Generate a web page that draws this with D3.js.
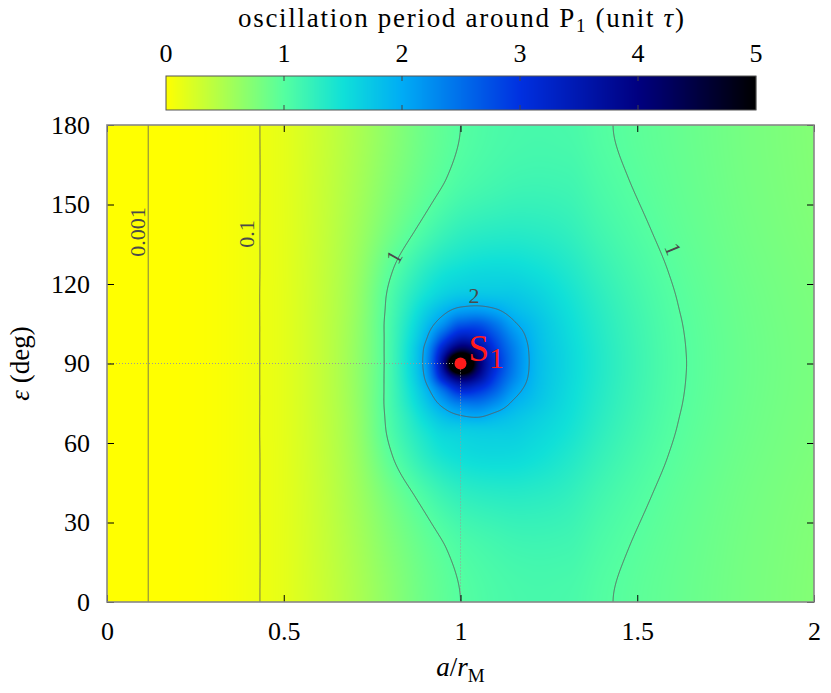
<!DOCTYPE html>
<html><head><meta charset="utf-8">
<script src="https://cdn.jsdelivr.net/npm/d3@7"></script>
<style>
html,body{margin:0;padding:0;background:#fff;}
svg text{font-family:"Liberation Serif","Times New Roman",serif;}
</style></head>
<body>
<svg id="chart" width="831" height="693"></svg>
<script>
// ---------- data ----------
const aVals   = [0,0.1,0.2,0.3,0.4,0.5,0.6,0.7,0.8,0.85,0.9,0.95,1.0,1.05,1.1,1.15,1.2,1.3,1.4,1.5,1.6,1.7,1.8,1.9,2.0];
const epsVals = [0,20,40,55,65,70,75,80,85,90,95,100,105,110,115,125,140,160,180];
// oscillation period (unit tau); one row per epsVals entry, one column per aVals entry
const periodRows = [
 [0,0.00075,0.0035,0.022,0.079,0.155,0.30,0.48,0.68,0.78,0.87,0.94,1.00,1.04,1.07,1.09,1.10,1.09,1.02,0.96,0.91,0.86,0.81,0.77,0.73],
 [0,0.00075,0.0035,0.022,0.079,0.155,0.31,0.50,0.72,0.82,0.91,0.985,1.05,1.09,1.12,1.145,1.155,1.144,1.056,0.983,0.924,0.870,0.817,0.776,0.736],
 [0,0.00075,0.0035,0.022,0.079,0.157,0.32,0.54,0.82,0.95,1.07,1.18,1.26,1.30,1.32,1.33,1.32,1.263,1.135,1.035,0.954,0.891,0.834,0.790,0.750],
 [0,0.00075,0.0035,0.022,0.079,0.158,0.33,0.575,0.97,1.15,1.32,1.45,1.52,1.56,1.57,1.56,1.52,1.394,1.223,1.091,0.988,0.914,0.852,0.806,0.766],
 [0,0.00075,0.0035,0.022,0.079,0.16,0.335,0.595,1.05,1.26,1.46,1.63,1.68,1.71,1.71,1.69,1.63,1.481,1.281,1.129,1.010,0.929,0.864,0.816,0.776],
 [0,0.00075,0.0035,0.022,0.079,0.16,0.337,0.60,1.07,1.31,1.58,1.82,1.97,2.02,1.90,1.79,1.70,1.518,1.306,1.145,1.019,0.936,0.869,0.820,0.780],
 [0,0.00075,0.0035,0.022,0.079,0.16,0.34,0.61,1.09,1.38,1.72,2.10,2.40,2.45,2.24,1.95,1.80,1.551,1.327,1.159,1.028,0.941,0.873,0.824,0.784],
 [0,0.00075,0.0035,0.022,0.079,0.16,0.34,0.615,1.095,1.43,1.86,2.50,3.15,3.00,2.60,2.14,1.88,1.575,1.343,1.169,1.034,0.946,0.877,0.827,0.787],
 [0,0.00075,0.0035,0.022,0.079,0.16,0.34,0.62,1.10,1.48,2.04,3.30,4.40,3.80,2.90,2.33,1.94,1.594,1.356,1.177,1.038,0.949,0.879,0.829,0.789],
 [0,0.00075,0.0035,0.022,0.079,0.16,0.34,0.62,1.10,1.50,2.12,3.80,9.00,4.30,3.10,2.40,1.96,1.60,1.36,1.18,1.04,0.95,0.88,0.83,0.79],
 [0,0.00075,0.0035,0.022,0.079,0.16,0.34,0.62,1.10,1.49,2.08,3.35,4.50,3.90,2.96,2.37,1.95,1.594,1.356,1.177,1.038,0.949,0.879,0.829,0.789],
 [0,0.00075,0.0035,0.022,0.079,0.16,0.34,0.615,1.095,1.45,1.92,2.70,3.35,3.20,2.72,2.24,1.91,1.575,1.343,1.169,1.034,0.946,0.877,0.827,0.787],
 [0,0.00075,0.0035,0.022,0.079,0.16,0.34,0.61,1.09,1.40,1.78,2.20,2.65,2.70,2.42,2.05,1.85,1.551,1.327,1.159,1.028,0.941,0.873,0.824,0.784],
 [0,0.00075,0.0035,0.022,0.079,0.16,0.337,0.60,1.07,1.34,1.64,1.90,2.10,2.14,2.04,1.87,1.76,1.518,1.306,1.145,1.019,0.936,0.869,0.820,0.780],
 [0,0.00075,0.0035,0.022,0.079,0.16,0.335,0.595,1.05,1.28,1.50,1.68,1.78,1.80,1.78,1.75,1.68,1.481,1.281,1.129,1.010,0.929,0.864,0.816,0.776],
 [0,0.00075,0.0035,0.022,0.079,0.158,0.33,0.575,0.97,1.15,1.32,1.45,1.52,1.56,1.57,1.56,1.52,1.394,1.223,1.091,0.988,0.914,0.852,0.806,0.766],
 [0,0.00075,0.0035,0.022,0.079,0.157,0.32,0.54,0.82,0.95,1.07,1.18,1.26,1.30,1.32,1.33,1.32,1.263,1.135,1.035,0.954,0.891,0.834,0.790,0.750],
 [0,0.00075,0.0035,0.022,0.079,0.155,0.31,0.50,0.72,0.82,0.91,0.985,1.05,1.09,1.12,1.145,1.155,1.144,1.056,0.983,0.924,0.870,0.817,0.776,0.736],
 [0,0.00075,0.0035,0.022,0.079,0.155,0.30,0.48,0.68,0.78,0.87,0.94,1.00,1.04,1.07,1.09,1.10,1.09,1.02,0.96,0.91,0.86,0.81,0.77,0.73]
];
const contourLevels = [0.001, 0.1, 1, 2];
const contourLabels = [
  {text:"0.001", a:0.1075, eps:139.6, rot:-90},
  {text:"0.1",   a:0.416,  eps:138.9, rot:-90},
  {text:"1",     a:0.812,  eps:130.2, rot:-61},
  {text:"1",     a:1.601,  eps:133.2, rot:68},
  {text:"2",     a:1.038,  eps:115.8, rot:0}
];
const pointS1 = {a:1.0, eps:90, name:"S", sub:"1"};
const xTicks = [0,0.5,1,1.5,2];
const yTicks = [0,30,60,90,120,150,180];
const cbTicks = [0,1,2,3,4,5];
const paletteStops  = [0, 1, 1.5, 2, 3, 4, 5];
const paletteColors = ["#ffff00","#55ffa0","#10e0d8","#00acf5","#0030e0","#000080","#000000"];

// ---------- layout ----------
const svg = d3.select("#chart");
const L = 107, R = 814, T = 125, B = 602;
const x = d3.scaleLinear().domain([0,2]).range([L,R]);
const y = d3.scaleLinear().domain([0,180]).range([B,T]);
const cbX = d3.scaleLinear().domain([0,5]).range([166,756]);
const cbTop = 76, cbBot = 110;
const color = d3.scaleLinear().domain(paletteStops).range(paletteColors).clamp(true);

// smooth cubic Hermite interpolation of the sampled table (rendering only);
// slopes are limited (Steffen) where neighbouring slopes differ strongly
function spline(xs, ys, flatEnds){
  const n = xs.length, h = [], s = [], m = new Array(n);
  for (let i=0;i<n-1;i++){ h[i]=xs[i+1]-xs[i]; s[i]=(ys[i+1]-ys[i])/h[i]; }
  for (let i=1;i<n-1;i++){
    const p = (s[i-1]*h[i] + s[i]*h[i-1])/(h[i-1]+h[i]);
    const a1 = Math.abs(s[i-1]), a2 = Math.abs(s[i]);
    const strong = Math.max(a1,a2) > 2.5*Math.min(a1,a2) && Math.sign(s[i-1])===Math.sign(s[i]);
    m[i] = strong ? (Math.sign(s[i-1])+Math.sign(s[i]))*Math.min(a1,a2,0.5*Math.abs(p)) : p;
  }
  m[0] = flatEnds ? 0 : s[0]; m[n-1] = flatEnds ? 0 : s[n-2];
  return function(v){
    let i = Math.min(n-2, Math.max(0, d3.bisectRight(xs, v)-1));
    const t = Math.max(0, Math.min(1, (v-xs[i])/h[i])), t2=t*t, t3=t2*t;
    return (2*t3-3*t2+1)*ys[i] + (t3-2*t2+t)*h[i]*m[i] + (-2*t3+3*t2)*ys[i+1] + (t3-t2)*h[i]*m[i+1];
  };
}
// interpolate exp(-T/2.6) so the peak at S1 stays round
const fwd = v => Math.exp(-v/2.6), inv = u => -2.6*Math.log(Math.max(u,1e-6));
function sampleGrid(x0, y0, gw, gh){
  const rowFns = periodRows.map(r => spline(aVals, r.map(fwd), false));
  const rowsAtPx = rowFns.map(f => { const arr = new Float64Array(gw); for (let i=0;i<gw;i++) arr[i]=f(x.invert(x0+i+0.5)); return arr; });
  const out = new Float64Array(gw*gh);
  const epsAt = d3.range(gh).map(j => y.invert(y0+j+0.5));
  for (let i=0;i<gw;i++){
    const f = spline(epsVals, rowsAtPx.map(r => r[i]), true);
    for (let j=0;j<gh;j++) out[j*gw+i] = Math.max(0, inv(f(epsAt[j])));
  }
  return out;
}

const LUT = d3.range(2001).map(k => d3.rgb(color(k/2000*5)));
function lut(v){ const k = Math.max(0, Math.min(2000, Math.round(v/5*2000))); return LUT[k]; }

// ---------- heatmap ----------
const W = R-L, H = B-T;
const pad = 3, GW = W+2*pad, GH = H+2*pad;
const grid = sampleGrid(L-pad, T-pad, GW, GH);
const cv = document.createElement("canvas"); cv.width = W; cv.height = H;
const ctx = cv.getContext("2d");
const img = ctx.createImageData(W, H);
for (let py=0; py<H; py++){
  for (let px=0; px<W; px++){
    const c = lut(grid[(py+pad)*GW + px + pad]);
    const o = (py*W+px)*4;
    img.data[o]=c.r; img.data[o+1]=c.g; img.data[o+2]=c.b; img.data[o+3]=255;
  }
}
ctx.putImageData(img,0,0);
svg.append("image").attr("x",L).attr("y",T).attr("width",W).attr("height",H)
   .attr("preserveAspectRatio","none").attr("href", cv.toDataURL());

// ---------- contours ----------
svg.append("clipPath").attr("id","clipPlot").append("rect").attr("x",L).attr("y",T).attr("width",W).attr("height",H);
const contours = d3.contours().size([GW,GH]).thresholds(contourLevels)(grid);
svg.append("g").attr("clip-path","url(#clipPlot)")
  .append("g").attr("transform",`translate(${L-pad},${T-pad})`)
  .selectAll("path").data(contours).join("path")
  .attr("d", d3.geoPath()).attr("fill","none").attr("stroke","#5a5a5a").attr("stroke-width",0.9);

svg.append("g").selectAll("text").data(contourLabels).join("text")
  .attr("transform", d => `translate(${x(d.a)},${y(d.eps)}) rotate(${d.rot})`)
  .attr("text-anchor","middle").attr("dominant-baseline", d => d.rot===-90 ? "alphabetic" : "central")
  .attr("font-size",22).attr("fill","#4a4a4a").text(d => d.text);

// dotted guide lines to S1 and the point
svg.append("line").attr("x1",x(0)).attr("x2",x(pointS1.a)).attr("y1",y(pointS1.eps)).attr("y2",y(pointS1.eps))
  .attr("stroke","#9a9a9a").attr("stroke-width",1).attr("stroke-dasharray","1,2");
svg.append("line").attr("x1",x(pointS1.a)).attr("x2",x(pointS1.a)).attr("y1",y(pointS1.eps)).attr("y2",y(0))
  .attr("stroke","#9a9a9a").attr("stroke-width",1).attr("stroke-dasharray","1,2");
svg.append("circle").attr("cx",x(pointS1.a)).attr("cy",y(pointS1.eps)).attr("r",6).attr("fill","#ff1a1a");
const sl = svg.append("text").attr("x",x(pointS1.a)+8).attr("y",y(pointS1.eps)-3).attr("fill","#ff1a1a").attr("font-size",37);
sl.append("tspan").text(pointS1.name);
sl.append("tspan").attr("font-size",30).attr("dy",7).text(pointS1.sub);

// ---------- axes ----------
const axisFont = 26;
svg.append("g").attr("transform",`translate(0,${B})`)
  .call(d3.axisBottom(x).tickValues(xTicks).tickFormat(d3.format("")).tickSize(-7).tickPadding(20));
svg.append("g").attr("transform",`translate(${L},0)`)
  .call(d3.axisLeft(y).tickValues(yTicks).tickSize(-7).tickPadding(17));
svg.append("g").attr("transform",`translate(0,${T})`)
  .call(d3.axisTop(x).tickValues(xTicks).tickSize(-7).tickFormat(""));
svg.append("g").attr("transform",`translate(${R},0)`)
  .call(d3.axisRight(y).tickValues(yTicks).tickSize(-7).tickFormat(""));
svg.selectAll(".domain").remove();
svg.selectAll("g").attr("font-family",null);
svg.selectAll(".tick line").attr("stroke","#000").attr("stroke-width",1);
svg.selectAll(".tick text").attr("font-size",axisFont).attr("fill","#000");
svg.append("rect").attr("x",L).attr("y",T).attr("width",W).attr("height",H)
  .attr("fill","none").attr("stroke","#888").attr("stroke-width",1.6);

const xt = svg.append("text").attr("x",x(1)).attr("y",676).attr("text-anchor","middle").attr("font-size",27);
xt.append("tspan").attr("font-style","italic").text("a");
xt.append("tspan").text("/");
xt.append("tspan").attr("font-style","italic").text("r");
xt.append("tspan").attr("font-size",19).attr("dy",6).text("M");
const yt = svg.append("text").attr("transform",`translate(29,${y(90)}) rotate(-90)`).attr("text-anchor","middle").attr("font-size",27);
yt.append("tspan").attr("font-style","italic").text("ε");
yt.append("tspan").text(" (deg)");

// ---------- colorbar ----------
const cb = svg.append("g");
for (let px = 166; px < 756; px++){
  cb.append("rect").attr("x",px).attr("y",cbTop).attr("width",1.2).attr("height",cbBot-cbTop)
    .attr("fill", color(cbX.invert(px+0.5)));
}
cb.append("rect").attr("x",166).attr("y",cbTop).attr("width",590).attr("height",cbBot-cbTop)
  .attr("fill","none").attr("stroke","#555").attr("stroke-width",1);
cb.selectAll("line.t1").data(cbTicks.slice(1,-1)).join("line")
  .attr("x1",d=>cbX(d)).attr("x2",d=>cbX(d)).attr("y1",cbTop).attr("y2",cbTop+5).attr("stroke","#444");
cb.selectAll("line.t2").data(cbTicks.slice(1,-1)).join("line")
  .attr("x1",d=>cbX(d)).attr("x2",d=>cbX(d)).attr("y1",cbBot).attr("y2",cbBot-5).attr("stroke","#444");
cb.selectAll("text").data(cbTicks).join("text")
  .attr("x",d=>cbX(d)).attr("y",62).attr("text-anchor","middle").attr("font-size",axisFont).text(d=>d);
const title = svg.append("text").attr("x",461).attr("y",27).attr("text-anchor","middle").attr("font-size",27)
  .attr("textLength",446).attr("lengthAdjust","spacing");
title.append("tspan").text("oscillation period around P");
title.append("tspan").attr("font-size",19).attr("dy",5).text("1");
title.append("tspan").attr("dy",-5).text(" (unit ");
title.append("tspan").attr("font-style","italic").text("τ");
title.append("tspan").text(")");
</script>
</body></html>
